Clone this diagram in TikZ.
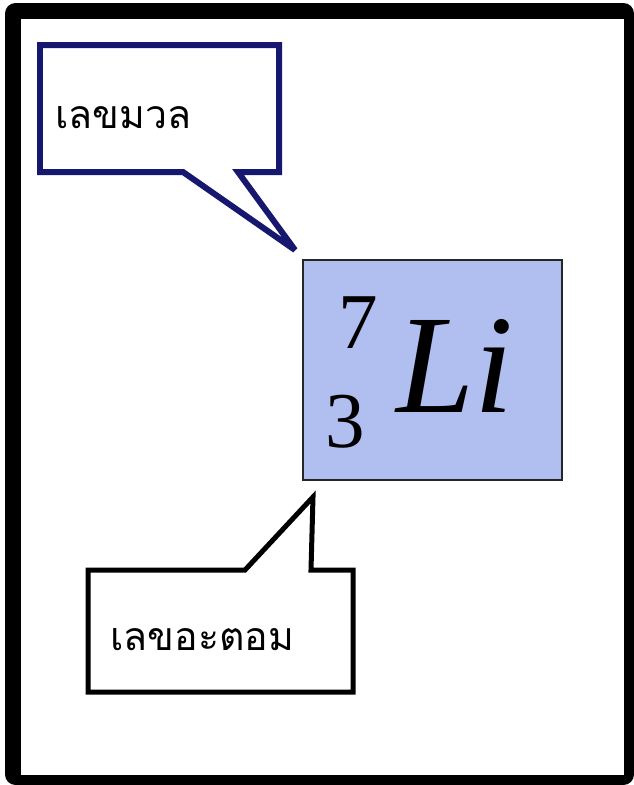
\documentclass[tikz,border=0pt]{standalone}
\usepackage{fontspec}
\setmainfont{Liberation Serif}
\newfontfamily\thaifont[Script=Thai]{Loma}
\definecolor{calloutnavy}{RGB}{22,24,112}
\definecolor{lifill}{RGB}{176,190,240}
\tikzset{
  massbubble/.style={line width=0.12cm, draw=calloutnavy, fill=white, line join=miter, miter limit=3},
  atomicbubble/.style={line width=0.1cm, draw=black, fill=white, line join=miter, miter limit=3},
  thailabel/.style={font=\thaifont\fontsize{22.3}{26}\selectfont, inner sep=0pt, anchor=west},
  elembox/.style={draw=black!85, fill=lifill, line width=0.04cm, minimum width=5.18cm, minimum height=4.4cm, inner sep=0pt},
}
\begin{document}
\begin{tikzpicture}[x=0.02cm,y=-0.02cm]
    \useasboundingbox (0,0) rectangle (634,785);
    % frame
    \fill[black, rounded corners=6] (5,3) rectangle (634,785);
    \fill[white] (21,19) rectangle (624,775);
    % element
    \node[elembox] (li) at (432.5,370) {};
    \node[anchor=base, font=\fontsize{80}{80}\selectfont\itshape, inner sep=0pt] (sym) at (455,412) {Li};
    \node[anchor=base, font=\fontsize{45}{45}\selectfont, inner sep=0pt] (mass) at (358,348) {7};
    \node[anchor=base, font=\fontsize{45}{45}\selectfont, inner sep=0pt] (atomic) at (345,447) {3};
    % callouts
    \draw[massbubble] (40,45) -- (279,45) -- (279,172) -- (238,172) -- (295,250) -- (183,172) -- (40,172) -- cycle;
    \node[thailabel] (massword) at (55,118) {เลขมวล};
    \draw[atomicbubble] (88,570) -- (245,570) -- (313,497) -- (311,570) -- (353,570) -- (353,692) -- (88,692) -- cycle;
    \node[thailabel] (atomicword) at (110,640) {เลขอะตอม};
\end{tikzpicture}
\end{document}
